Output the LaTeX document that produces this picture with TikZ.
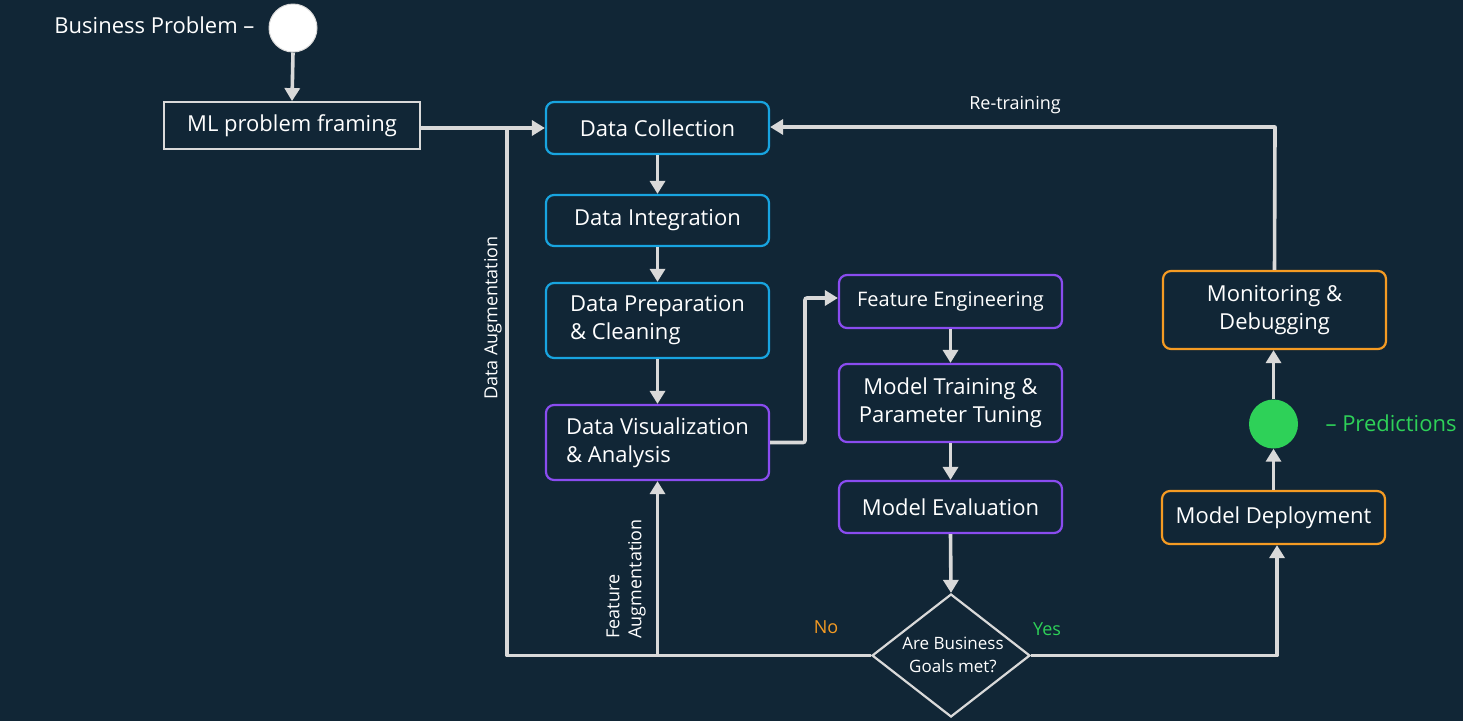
\documentclass[tikz,border=0pt]{standalone}
\usepackage{fontspec}
\setmainfont{Open Sans}
\usetikzlibrary{arrows.meta,shapes.geometric}
\definecolor{bg}{RGB}{17,38,54}
\definecolor{ln}{RGB}{217,217,217}
\definecolor{cyanb}{RGB}{24,164,224}
\definecolor{purpb}{RGB}{138,76,240}
\definecolor{orgb}{RGB}{245,155,35}
\definecolor{grn}{RGB}{46,209,88}
\tikzset{
  every node/.style={text=white},
  box/.style={draw, rounded corners=8pt, line width=2.2pt, minimum width=223pt, align=center, font=\fontsize{22}{28}\selectfont, inner sep=0pt},
  cyanbox/.style={box, draw=cyanb},
  purpbox/.style={box, draw=purpb},
  orgbox/.style={box, draw=orgb},
  conn/.style={draw=ln, line width=3.6pt, -{Triangle[length=13pt,width=15pt]}},
  plain/.style={draw=ln, line width=3.6pt},
  lbl/.style={font=\fontsize{18}{22}\selectfont},
}
\begin{document}
\begin{tikzpicture}[x=1pt,y=-1pt]
\fill[bg] (0,0) rectangle (1463,721);
\useasboundingbox (0,0) rectangle (1463,721);

% start
\node[circle, fill=white, draw=ln, line width=1pt, minimum size=48pt, inner sep=0pt] (bp) at (293,28) {};
\node[anchor=east, font=\fontsize{22}{26}\selectfont] (bpt) at (258,25) {Business Problem –};
\node[draw=ln, line width=1.8pt, minimum width=256pt, minimum height=47pt, font=\fontsize{22}{26}\selectfont, inner sep=0pt] (ml) at (292,125.5) {ML problem framing};

% data column
\node[cyanbox, minimum height=52pt] (dc) at (657.5,128) {Data Collection};
\node[cyanbox, minimum height=51pt] (di) at (657.5,220.5) {Data Integration};
\node[cyanbox, minimum height=75pt, align=left] (dp) at (657.5,320.5) {Data Preparation\\\& Cleaning};
\node[purpbox, minimum height=75pt, align=left] (dv) at (657.5,442.5) {Data Visualization\\\& Analysis};

% model column
\node[purpbox, minimum height=53pt, font=\fontsize{20}{26}\selectfont] (fe) at (950.5,301.5) {Feature Engineering};
\node[purpbox, minimum height=78pt] (mt) at (950.5,403) {Model Training \&\\Parameter Tuning};
\node[purpbox, minimum height=52pt] (me) at (950.5,507) {Model Evaluation};
\node[diamond, draw=ln, line width=2.2pt, minimum width=158pt, minimum height=123pt, inner sep=0pt] (dec) at (951,655.5) {};
\node[align=center, font=\fontsize{17}{23}\selectfont] (dect) at (953,655) {Are Business\\Goals met?};

% deployment column
\node[orgbox, minimum height=53pt] (md) at (1273.5,517.5) {Model Deployment};
\node[circle, fill=grn, minimum size=49pt, inner sep=0pt] (pc) at (1273.5,424) {};
\node[anchor=west, text=grn, font=\fontsize{22}{26}\selectfont] (pt) at (1322,423) {– Predictions};
\node[orgbox, minimum height=78pt] (mo) at (1274.5,310) {Monitoring \&\\Debugging};

% labels
\node[lbl] (rt) at (1015,105) {Re-training};
\node[lbl, rotate=90] (da) at (493,318) {Data Augmentation};
\node[lbl, rotate=90, anchor=west, align=left, font=\fontsize{18}{22}\selectfont] (fa) at (626,642) {Feature\\Augmentation};
\node[lbl, text=orgb] (no) at (826,627) {No};
\node[lbl, text=grn] (yes) at (1047,629) {Yes};

% coordinates
\coordinate (dajoin) at (507,127);
\coordinate (bl) at (507,655.5);
\coordinate (fajoin) at (657.5,655.5);
\coordinate (vr) at (805,442.5);
\coordinate (vt) at (805,298);
\coordinate (yr) at (1277,655.5);
\coordinate (rtc) at (1275,127);

% connectors
\draw[conn] (bp.south) -- (ml.north);
\draw[conn] (ml.east) -- (ml.east |- dc.west) -- (dc.west);
\draw[conn] (dc) -- (di);
\draw[conn] (di) -- (dp);
\draw[conn] (dp) -- (dv);
\draw[conn, rounded corners=2pt] (dv.east) -- (vr) -- (vt) -- (vt -| fe.west);
\draw[conn] (fe) -- (mt);
\draw[conn] (mt) -- (me);
\draw[conn] (me.south) -- (dec.north);
\draw[plain, line join=round] (dec.west) -- (bl) -- (dajoin);
\draw[conn] (fajoin) -- (dv.south);
\draw[conn, line join=round] (dec.east) -- (yr) -- (md.south -| yr);
\draw[conn] (md.north -| pc) -- (pc.south);
\draw[conn] (pc.north) -- (mo.south -| pc);
\draw[conn, line join=round] (mo.north) -- (rtc) -- (dc.east |- rtc);
\end{tikzpicture}
\end{document}
